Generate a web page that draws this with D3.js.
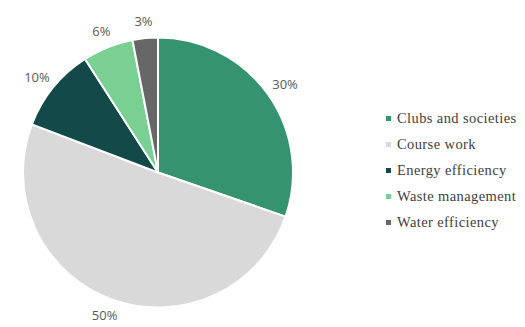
<!DOCTYPE html>
<html>
<head>
<meta charset="utf-8">
<script src="https://cdn.jsdelivr.net/npm/d3@7/dist/d3.min.js"></script>
<style>
  html, body { margin: 0; padding: 0; background: #ffffff; }
  svg { display: block; }
</style>
</head>
<body>
<svg id="chart" width="525" height="327"></svg>
<script>
// Share of activities (percent)
const categories = ["Clubs and societies", "Course work", "Energy efficiency", "Waste management", "Water efficiency"];
const values = [30, 50, 10, 6, 3];
const valueLabels = ["30%", "50%", "10%", "6%", "3%"];
const colors = ["#35936f", "#d9d9d9", "#134a49", "#7acf92", "#676767"];

const svg = d3.select("#chart");
const cx = 158, cy = 172.5, radius = 135, labelRadius = 143;

const color = d3.scaleOrdinal().domain(categories).range(colors);

const pie = d3.pie().sort(null).value(d => d.value);
const data = pie(categories.map((c, i) => ({ name: c, value: values[i], label: valueLabels[i] })));

const arc = d3.arc().innerRadius(0).outerRadius(radius);
const labelArc = d3.arc().innerRadius(labelRadius).outerRadius(labelRadius);

const g = svg.append("g").attr("transform", `translate(${cx},${cy})`);

g.selectAll("path.slice")
  .data(data)
  .join("path")
  .attr("class", "slice")
  .attr("d", arc)
  .attr("fill", d => color(d.data.name))
  .attr("stroke", "#ffffff")
  .attr("stroke-width", 2)
  .attr("stroke-linejoin", "round");

// Percent labels sit just outside the rim: the label box is pushed
// outward along the slice's mid-angle by half its width/height.
const pct = g.selectAll("text.pct")
  .data(data)
  .join("text")
  .attr("class", "pct")
  .attr("text-anchor", "middle")
  .attr("dominant-baseline", "central")
  .attr("font-family", "'Open Sans', 'Liberation Sans', sans-serif")
  .attr("font-size", 13)
  .attr("fill", "#595959")
  .text(d => d.data.label);

pct.attr("transform", function (d) {
  const [x, y] = labelArc.centroid(d);
  const bb = this.getBBox();
  const mid = (d.startAngle + d.endAngle) / 2;
  const dx = Math.sin(mid) * bb.width / 2;
  const dy = -Math.cos(mid) * bb.height / 2;
  return `translate(${x + dx},${y + dy})`;
});

// Legend
const legend = svg.append("g").attr("transform", "translate(386,118)");
const rowStep = 26;
const rows = legend.selectAll("g.item")
  .data(categories)
  .join("g")
  .attr("class", "item")
  .attr("transform", (d, i) => `translate(0,${i * rowStep})`);

rows.append("rect")
  .attr("x", 0).attr("y", -2)
  .attr("width", 5).attr("height", 5)
  .attr("fill", d => color(d));

rows.append("text")
  .attr("x", 11)
  .attr("y", 0)
  .attr("dominant-baseline", "central")
  .attr("font-family", "'Liberation Serif', 'Times New Roman', serif")
  .attr("font-size", 14.5)
  .attr("letter-spacing", 0.4)
  .attr("fill", "#404040")
  .text(d => d);
</script>
</body>
</html>
